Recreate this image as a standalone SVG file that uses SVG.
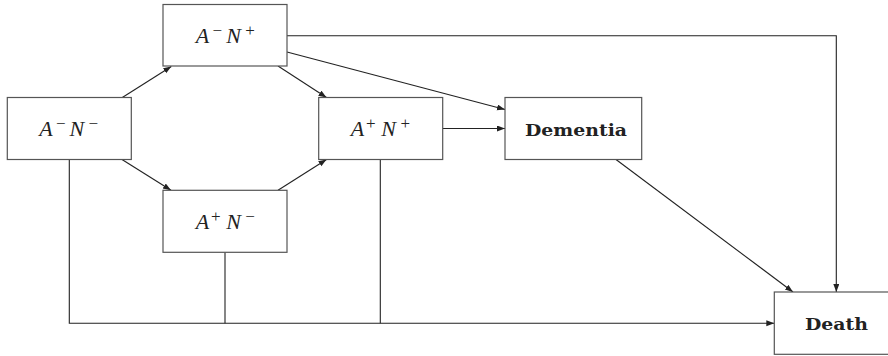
<svg xmlns="http://www.w3.org/2000/svg" width="888" height="356" viewBox="0 0 888 356">
<style>
.box{fill:#fff;stroke:#555;stroke-width:1.2}
.m{font-family:"Liberation Serif","Times New Roman",serif;font-size:22px;fill:#222;text-anchor:middle}
.i{font-style:italic}
.s{font-size:17px}
.b{font-family:"DejaVu Serif","Liberation Serif",serif;font-weight:bold;font-size:16.5px;fill:#222;text-anchor:middle}
.c{fill:none;stroke:#222;stroke-width:1.1}
</style>
<defs>
<marker id="ah" markerUnits="userSpaceOnUse" markerWidth="9" markerHeight="7" refX="8" refY="3" orient="auto">
<path d="M0,0 L8,3 L0,6 z" fill="#222"/>
</marker>
</defs>
<g id="connectors">
<path class="c" d="M122.3,97.5 L171.3,66.5" marker-end="url(#ah)"/>
<path class="c" d="M278,66 L326.5,97.5" marker-end="url(#ah)"/>
<path class="c" d="M122,159.5 L171,190.3" marker-end="url(#ah)"/>
<path class="c" d="M278,190.3 L326.5,159.5" marker-end="url(#ah)"/>
<path class="c" d="M287,52 L505,109.5" marker-end="url(#ah)"/>
<path class="c" d="M442.7,128.5 L505,128.5" marker-end="url(#ah)"/>
<path class="c" d="M616,159.5 L793,292" marker-end="url(#ah)"/>
<path class="c" d="M287,35.7 L836.3,35.7 L836.3,292" marker-end="url(#ah)"/>
<path class="c" d="M69.3,159.5 L69.3,323.3 L774.3,323.3" marker-end="url(#ah)"/>
<path class="c" d="M225,252.3 L225,323.3"/>
<path class="c" d="M380.3,159.5 L380.3,323.3"/>
</g>
<g id="AmNp">
<rect class="box" x="163" y="4.5" width="124" height="61.5"/>
<text class="m"><tspan class="i" x="202.5" y="42.7">A</tspan><tspan class="s" x="217.3" y="36">−</tspan><tspan class="i" x="233.5" y="42.7">N</tspan><tspan class="s" x="250" y="36">+</tspan></text>
</g>
<g id="AmNm">
<rect class="box" x="7.3" y="97.5" width="124" height="62"/>
<text class="m"><tspan class="i" x="45.9" y="136">A</tspan><tspan class="s" x="60.7" y="129.3">−</tspan><tspan class="i" x="76.9" y="136">N</tspan><tspan class="s" x="93.4" y="129.3">−</tspan></text>
</g>
<g id="ApNp">
<rect class="box" x="318.7" y="97.5" width="124" height="62"/>
<text class="m"><tspan class="i" x="357.5" y="135.5">A</tspan><tspan class="s" x="370.8" y="128.8">+</tspan><tspan class="i" x="388.5" y="135.5">N</tspan><tspan class="s" x="405.2" y="128.8">+</tspan></text>
</g>
<g id="ApNm">
<rect class="box" x="163" y="190.3" width="124" height="62"/>
<text class="m"><tspan class="i" x="202.5" y="228.8">A</tspan><tspan class="s" x="215.8" y="222.1">+</tspan><tspan class="i" x="233.5" y="228.8">N</tspan><tspan class="s" x="250" y="222.1">−</tspan></text>
</g>
<g id="Dementia">
<rect class="box" x="505" y="97.5" width="136.7" height="62"/>
<text class="b" x="576" y="136" textLength="102" lengthAdjust="spacingAndGlyphs">Dementia</text>
</g>
<g id="Death">
<rect class="box" x="774.3" y="292" width="124" height="62.3"/>
<text class="b" x="836.5" y="330" textLength="63" lengthAdjust="spacingAndGlyphs">Death</text>
</g>
</svg>
